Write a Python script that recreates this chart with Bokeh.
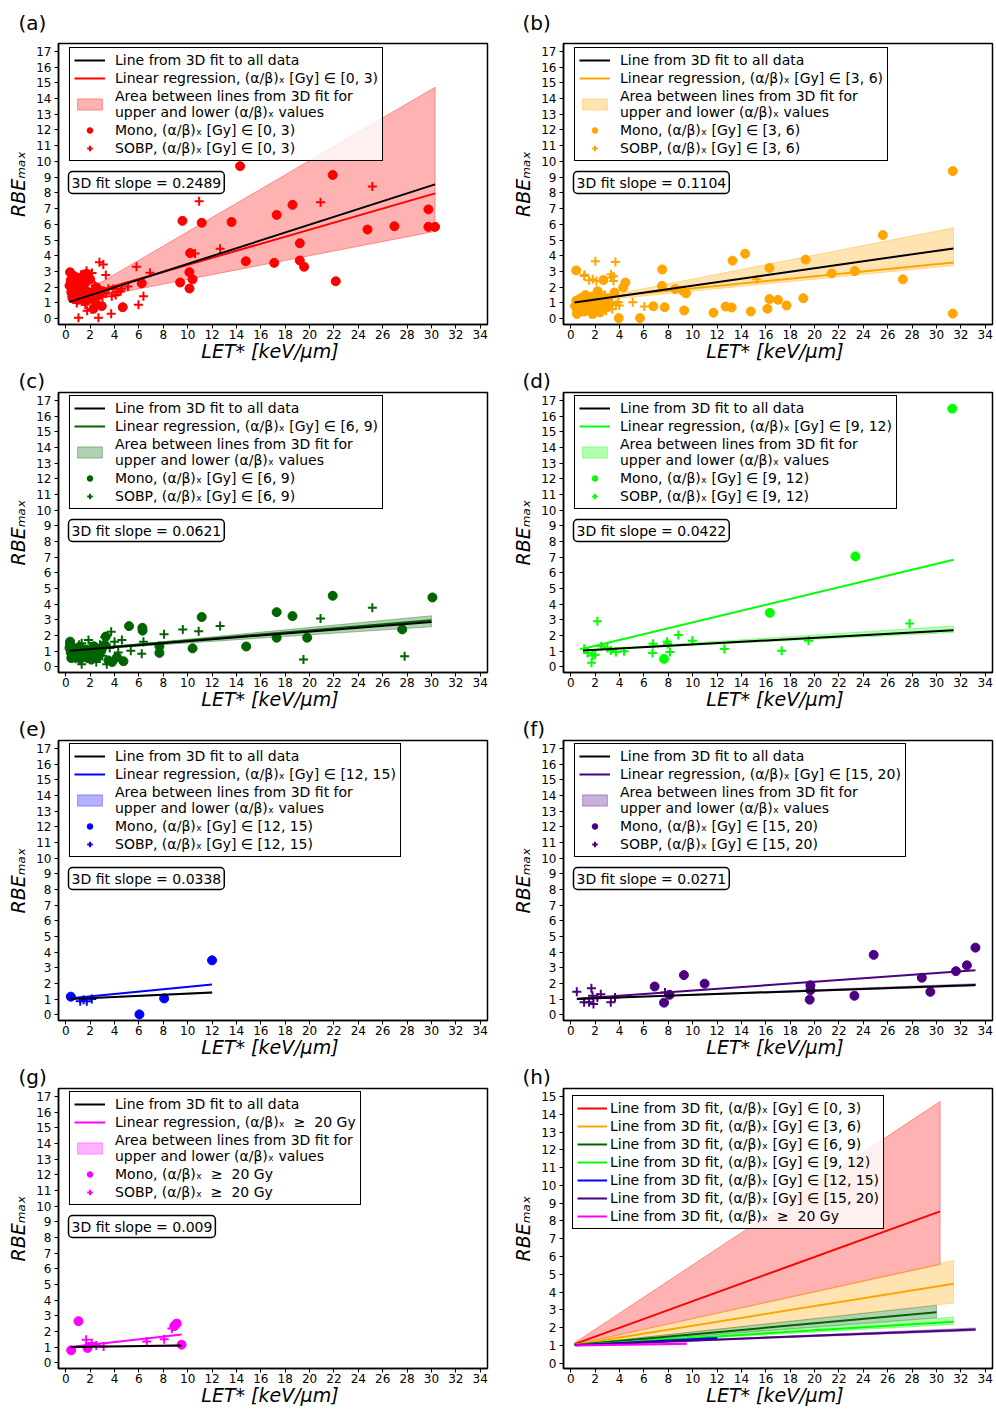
from bokeh.plotting import figure
from bokeh.layouts import column, row
from bokeh.models import Range1d, FixedTicker, Label, Legend, LegendItem
from bokeh.embed import file_html
from bokeh.resources import INLINE

# ---------------- data ----------------
GROUP_TXT = ["[Gy] ∈ [0, 3)", "[Gy] ∈ [3, 6)", "[Gy] ∈ [6, 9)", "[Gy] ∈ [9, 12)",
             "[Gy] ∈ [12, 15)", "[Gy] ∈ [15, 20)", " ≥  20 Gy"]
COLORS = ["#ff0000", "#ffa500", "#006400", "#00ff00", "#0000ff", "#4b0082", "#ff00ff"]
SLOPES = ["0.2489", "0.1104", "0.0621", "0.0422", "0.0338", "0.0271", "0.009"]
PANEL_LETTERS = ["(a)", "(b)", "(c)", "(d)", "(e)", "(f)", "(g)", "(h)"]

FIT_X = [[0.3, 30.3], [0.3, 31.4], [0.3, 30.0], [1.0, 31.4], [0.4, 12.0], [0.5, 33.2], [0.4, 9.5]]
FIT3D_Y = [[1.07, 8.54], [1.03, 4.47], [1.02, 2.86], [1.04, 2.33], [1.01, 1.41], [1.01, 1.90], [1.00, 1.09]]
REG_Y = [[1.25, 7.97], [1.18, 3.57], [1.05, 2.97], [1.15, 6.82], [1.05, 1.92], [1.02, 2.83], [1.00, 1.80]]
BAND_LO = [[1.04, 5.55], [1.02, 3.38], [1.01, 2.55], [1.03, 2.18], [1.01, 1.37], [1.00, 1.83], [1.00, 1.04]]
BAND_HI = [[1.14, 14.72], [1.05, 5.78], [1.03, 3.25], [1.06, 2.60], [1.02, 1.45], [1.02, 1.98], [1.00, 1.15]]

A_MONO_X = [14.3, 9.57, 11.15, 13.6, 17.3, 18.6, 21.9, 29.75, 29.75, 30.3, 26.96, 24.75, 19.2, 19.2,
            19.55, 17.1, 14.77, 22.15, 10.2, 10.4, 10.14, 10.15, 9.38, 6.23, 4.67, 2.95, 2.27,
            0.3, 0.35, 0.4, 0.45, 0.5, 0.55, 0.6, 0.7, 0.8, 0.9, 1.0, 1.1, 1.2, 1.3, 1.4, 1.5, 1.6,
            1.8, 2.0, 2.2, 2.5, 2.7, 3.0, 1.7, 2.4]
A_MONO_Y = [9.7, 6.22, 6.1, 6.15, 6.6, 7.24, 9.14, 6.95, 5.84, 5.84, 5.88, 5.67, 4.8, 3.7,
            3.3, 3.55, 3.65, 2.38, 4.17, 2.5, 2.96, 1.92, 2.3, 2.25, 0.73, 0.8, 0.63,
            2.1, 2.95, 2.45, 1.7, 1.6, 1.3, 2.3, 2.7, 2.0, 1.5, 1.2, 2.6, 1.9, 1.4, 2.45, 2.2, 1.1,
            1.7, 2.5, 1.3, 2.0, 1.5, 1.75, 2.85, 1.05]
A_SOBP_X = [10.94, 20.9, 25.15, 12.66, 10.6, 5.8, 6.9, 6.37, 5.96, 3.72, 2.68, 1.04, 2.76, 3.08,
            3.28, 3.77, 3.9, 4.5, 5.1,
            0.5, 0.7, 0.8, 0.9, 1.1, 1.2, 1.25, 1.3, 1.4, 1.5, 1.6, 1.7, 1.75, 1.8, 1.9, 2.0, 2.1,
            2.15, 2.2, 2.3, 2.4, 2.5, 2.8, 3.0, 3.3, 3.5, 4.1, 4.3, 4.6, 0.95]
A_SOBP_Y = [7.47, 7.4, 8.41, 4.45, 4.15, 3.3, 2.92, 1.42, 0.88, 0.31, 0.06, 0.06, 3.59, 3.44,
            2.78, 1.42, 1.88, 1.75, 2.05,
            1.4, 2.2, 2.6, 1.0, 1.8, 2.5, 2.8, 1.1, 1.6, 2.0, 0.9, 3.05, 0.5, 1.3, 2.4, 1.6, 0.6,
            2.9, 1.9, 1.2, 2.1, 1.5, 1.8, 1.4, 1.6, 1.9, 1.5, 1.7, 1.9, 2.35]

B_MONO_X = [31.34, 31.34, 25.6, 27.25, 23.3, 21.4, 19.27, 19.08, 16.3, 16.3, 17.0, 17.7, 16.13,
            14.77, 13.27, 14.3, 12.7, 13.2, 11.7, 9.3, 9.45, 9.2, 8.57, 7.5, 7.48, 7.7, 6.77,
            5.68, 3.93, 4.48, 4.3, 3.58, 2.68, 0.44, 0.5,
            0.35, 0.45, 0.6, 0.7, 0.8, 0.9, 1.0, 1.1, 1.2, 1.3, 1.4, 1.5, 1.7, 1.8, 1.9, 2.0, 2.1,
            2.3, 2.4, 2.6, 2.8, 3.0, 3.2, 0.5, 2.2]
B_MONO_Y = [9.39, 0.32, 5.32, 2.5, 3.03, 2.88, 3.76, 1.3, 3.23, 1.25, 1.2, 0.84, 0.63,
            0.46, 3.69, 4.13, 0.77, 0.71, 0.38, 0.52, 1.61, 1.77, 1.88, 3.13, 2.09, 0.73, 0.79,
            0.04, 0.04, 2.3, 1.98, 1.67, 2.46, 3.07, 0.3,
            0.8, 1.15, 1.1, 0.6, 1.3, 0.5, 0.9, 0.45, 1.5, 1.0, 0.7, 1.0, 1.4, 0.3, 0.55, 1.2, 0.85,
            1.6, 0.4, 1.05, 0.75, 1.3, 0.95, 0.6, 1.75]
B_SOBP_X = [0.6, 0.9, 1.1, 1.3, 1.5, 1.7, 1.9, 2.1, 2.3, 2.5, 2.7, 2.9, 3.1, 3.3, 3.5, 3.7, 3.9,
            1.0, 1.6, 2.2, 2.8, 3.4, 1.12, 1.8, 3.3, 3.5, 2.02, 3.66, 3.98, 5.08, 6.03, 15.25]
B_SOBP_Y = [0.9, 1.2, 2.71, 0.7, 2.45, 1.1, 0.6, 2.4, 1.3, 0.8, 1.0, 0.5, 1.2, 2.82, 2.7, 0.9, 1.05,
            1.4, 0.3, 1.0, 1.5, 0.6, 2.8, 2.5, 2.62, 2.4, 3.65, 3.6, 0.84, 1.04, 0.78, 2.5]

C_MONO_X = [21.9, 30.08, 17.3, 18.6, 11.15, 27.6, 17.3, 19.8, 14.8, 10.4, 7.68, 7.68, 6.28, 6.3,
            5.19, 3.28, 4.73,
            0.3, 0.35, 0.35, 0.4, 0.5, 0.6, 0.8, 1.0, 1.2, 1.4, 1.6, 1.8, 2.0, 2.3, 2.6, 2.9, 3.2,
            3.5, 3.8, 4.2, 0.45, 1.1, 2.1, 3.0]
C_MONO_Y = [4.53, 4.42, 3.48, 3.23, 3.17, 2.38, 1.85, 1.85, 1.29, 1.17, 1.29, 0.88, 2.48, 2.3,
            2.59, 1.92, 0.35,
            1.2, 1.6, 1.45, 0.9, 0.75, 1.2, 0.6, 0.95, 0.5, 0.7, 1.1, 0.55, 0.8, 1.3, 0.6, 1.0, 1.4,
            0.4, 0.3, 0.6, 0.55, 1.25, 0.45, 1.2]
C_SOBP_X = [25.15, 20.9, 12.66, 9.6, 10.9, 8.06, 19.5, 27.8, 6.23, 5.33, 3.72, 6.37,
            0.6, 0.9, 1.1, 1.3, 1.5, 1.7, 1.86, 2.0, 2.2, 2.4, 2.6, 2.8, 3.0, 3.36, 3.6, 4.0, 4.3,
            4.6, 1.3, 2.5, 3.2, 0.8]
C_SOBP_Y = [3.76, 3.07, 2.59, 2.38, 2.27, 2.07, 0.46, 0.66, 0.83, 1.02, 2.23, 1.6,
            1.2, 0.8, 1.4, 0.15, 1.0, 0.6, 1.71, 1.3, 0.5, 1.1, 0.9, 1.4, 0.7, 0.15, 1.2, 1.6, 0.9,
            1.7, 1.5, 0.3, 1.9, 0.5]

D_MONO_X = [31.3, 23.35, 16.33, 7.65]
D_MONO_Y = [16.47, 7.04, 3.44, 0.5]
D_SOBP_X = [2.18, 27.8, 8.82, 9.97, 19.5, 12.6, 17.3, 6.75, 6.7, 7.9, 8.14, 1.1, 1.37, 1.78, 2.0,
            1.7, 2.5, 3.3, 3.7, 4.37, 3.0, 7.95]
D_SOBP_Y = [2.9, 2.76, 2.03, 1.65, 1.65, 1.13, 1.02, 1.46, 0.88, 1.59, 0.94, 1.15, 0.88, 0.71, 0.77,
            0.25, 1.3, 1.04, 0.94, 0.98, 1.2, 1.45]

E_MONO_X = [0.41, 6.04, 8.07, 12.0]
E_MONO_Y = [1.15, 0.02, 1.04, 3.47]
E_SOBP_X = [1.18, 1.72, 1.45, 2.13]
E_SOBP_Y = [0.86, 0.86, 0.95, 1.0]

F_MONO_X = [33.2, 32.5, 31.6, 28.8, 29.5, 24.85, 23.27, 19.66, 19.66, 19.6, 10.98, 9.28, 6.88, 8.1, 7.65]
F_MONO_Y = [4.28, 3.15, 2.78, 2.36, 1.46, 3.82, 1.21, 1.88, 1.57, 0.96, 1.98, 2.53, 1.8, 1.27, 0.77]
F_SOBP_X = [0.49, 1.69, 1.09, 1.5, 1.86, 1.78, 2.18, 2.46, 3.28, 3.63, 7.73]
F_SOBP_Y = [1.46, 1.69, 0.79, 0.79, 0.69, 1.21, 1.1, 1.31, 0.79, 1.1, 1.42]

G_MONO_X = [0.44, 1.04, 1.78, 9.1, 8.9, 9.5]
G_MONO_Y = [0.79, 2.65, 0.94, 2.5, 2.34, 1.15]
G_SOBP_X = [1.67, 2.13, 3.1, 6.64, 8.07, 8.7, 2.5]
G_SOBP_Y = [1.46, 1.25, 1.04, 1.36, 1.5, 2.19, 1.1]

MONO_X = [A_MONO_X, B_MONO_X, C_MONO_X, D_MONO_X, E_MONO_X, F_MONO_X, G_MONO_X]
MONO_Y = [A_MONO_Y, B_MONO_Y, C_MONO_Y, D_MONO_Y, E_MONO_Y, F_MONO_Y, G_MONO_Y]
SOBP_X = [A_SOBP_X, B_SOBP_X, C_SOBP_X, D_SOBP_X, E_SOBP_X, F_SOBP_X, G_SOBP_X]
SOBP_Y = [A_SOBP_Y, B_SOBP_Y, C_SOBP_Y, D_SOBP_Y, E_SOBP_Y, F_SOBP_Y, G_SOBP_Y]

X_TICKS = list(range(0, 35, 2))
Y_TICKS = list(range(0, 18))
Y_TICKS_H = list(range(0, 16))

# ---------------- layout constants ----------------
FONT = "DejaVu Sans"
FRAME_H = 282
COL_BORDERS = [(58, 11), (65, 4)]
ROW_BORDERS = [(42, 42), (24, 42), (24, 42), (24, 44)]
TITLE_OFFSET = [-40, -41]
TITLE_STANDOFF = [17, 0, 0, 0]


def make_fig(idx, yr, yticks):
    r, c = divmod(idx, 2)
    bl, br = COL_BORDERS[c]
    bt, bb = ROW_BORDERS[r]
    p = figure(width=498, height=bt + FRAME_H + bb, title=PANEL_LETTERS[idx],
               x_range=Range1d(-0.6, 34.6), y_range=Range1d(*yr),
               output_backend="svg", toolbar_location=None,
               min_border_left=bl, min_border_right=br,
               min_border_top=bt, min_border_bottom=bb)
    p.title.align = "left"
    p.title.offset = TITLE_OFFSET[c]
    p.title.standoff = TITLE_STANDOFF[r]
    p.title.text_font = FONT
    p.title.text_font_size = "20px"
    p.title.text_font_style = "normal"
    p.title.text_color = "black"
    p.xaxis.ticker = FixedTicker(ticks=X_TICKS)
    p.yaxis.ticker = FixedTicker(ticks=yticks)
    p.xgrid.visible = False
    p.ygrid.visible = False
    p.outline_line_color = "black"
    p.outline_line_width = 1.5
    p.outline_line_alpha = 1.0
    for ax in (p.xaxis[0], p.yaxis[0]):
        ax.major_tick_out = 4
        ax.major_tick_in = 0
        ax.minor_tick_out = 0
        ax.minor_tick_in = 0
        ax.axis_line_color = "black"
        ax.axis_line_width = 1.5
        ax.major_tick_line_color = "black"
        ax.major_label_text_font = FONT
        ax.major_label_text_font_size = "12px"
        ax.major_label_text_color = "black"
        ax.axis_label_text_font = FONT
        ax.axis_label_text_font_size = "19px"
        ax.axis_label_text_font_style = "italic"
        ax.axis_label_text_color = "black"
    p.xaxis.major_label_standoff = 1
    p.xaxis.axis_label_standoff = -2
    p.yaxis.major_label_standoff = 3
    p.yaxis.axis_label_standoff = 4
    p.xaxis.axis_label = "LET*  [keV/μm]"
    p.yaxis.axis_label = "RBEₘₐₓ"
    return p


def style_legend(leg):
    leg.border_line_color = "black"
    leg.border_line_width = 1.3
    leg.border_line_alpha = 1.0
    leg.background_fill_color = "white"
    leg.background_fill_alpha = 0.8
    leg.label_text_font = FONT
    leg.label_text_font_size = "14px"
    leg.label_text_color = "black"


figs = []
for i in range(7):
    col = COLORS[i]
    p = make_fig(i, (-0.37, 17.5), Y_TICKS)
    x0, x1 = FIT_X[i]
    band = p.patch(x=[x0, x1, x1, x0],
                   y=[BAND_LO[i][0], BAND_LO[i][1], BAND_HI[i][1], BAND_HI[i][0]],
                   fill_color=col, fill_alpha=0.3, line_color=col, line_alpha=0.35, line_width=1)
    mono = p.scatter(MONO_X[i], MONO_Y[i], marker="circle", size=9,
                     fill_color=col, line_color=col)
    sobp = p.scatter(SOBP_X[i], SOBP_Y[i], marker="cross", size=9,
                     line_color=col, line_width=2)
    reg = p.line(FIT_X[i], REG_Y[i], line_color=col, line_width=2)
    fit = p.line(FIT_X[i], FIT3D_Y[i], line_color="black", line_width=2)
    g = GROUP_TXT[i]
    items = [
        LegendItem(label="Line from 3D fit to all data", renderers=[fit]),
        LegendItem(label="Linear regression, (α/β)ₓ " + g, renderers=[reg]),
        LegendItem(label="Area between lines from 3D fit for\nupper and lower (α/β)ₓ values",
                   renderers=[band]),
        LegendItem(label="Mono, (α/β)ₓ " + g, renderers=[mono]),
        LegendItem(label="SOBP, (α/β)ₓ " + g, renderers=[sobp]),
    ]
    leg = Legend(items=items, location=(11, FRAME_H - 6 - 113), glyph_width=31, glyph_height=14,
                 label_standoff=10, padding=4, spacing=2)
    style_legend(leg)
    p.add_layout(leg)
    p.add_layout(Label(x=10, y=131, x_units="screen", y_units="screen",
                       text="3D fit slope = " + SLOPES[i],
                       text_font=FONT, text_font_size="14px", text_color="black",
                       text_align="left", text_baseline="bottom",
                       padding=3, border_radius=4,
                       border_line_color="black", border_line_width=1.5,
                       background_fill_color="white", background_fill_alpha=1.0))
    figs.append(p)

# panel (h)
ph = make_fig(7, (-0.3, 15.45), Y_TICKS_H)
for i in range(7):
    col = COLORS[i]
    x0, x1 = FIT_X[i]
    ph.patch(x=[x0, x1, x1, x0],
             y=[BAND_LO[i][0], BAND_LO[i][1], BAND_HI[i][1], BAND_HI[i][0]],
             fill_color=col, fill_alpha=0.3, line_color=col, line_alpha=0.35, line_width=1)
h_items = []
for i in range(7):
    r = ph.line(FIT_X[i], FIT3D_Y[i], line_color=COLORS[i], line_width=2)
    h_items.append(LegendItem(label="Line from 3D fit, (α/β)ₓ " + GROUP_TXT[i], renderers=[r]))
hleg = Legend(items=h_items, location=(9, FRAME_H - 8 - 135), glyph_width=30, glyph_height=14,
              label_standoff=3, padding=4, spacing=2)
style_legend(hleg)
ph.add_layout(hleg)
figs.append(ph)

layout = column(row(figs[0], figs[1]), row(figs[2], figs[3]),
                row(figs[4], figs[5]), row(figs[6], figs[7]))

open("out.html", "w").write(file_html(layout, INLINE))
